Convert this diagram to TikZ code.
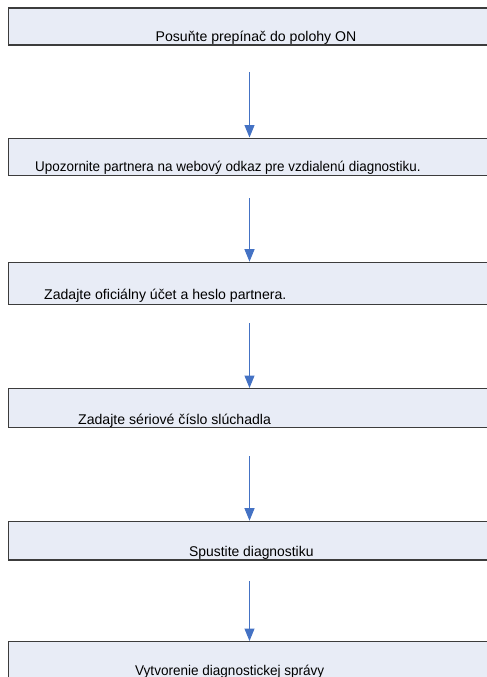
\documentclass[tikz,border=0pt]{standalone}
\usepackage{fontspec}
\setmainfont{Liberation Sans}
\usetikzlibrary{arrows.meta,positioning}
\definecolor{boxfill}{RGB}{232,236,246}
\definecolor{boxline}{RGB}{60,60,60}
\definecolor{flowblue}{RGB}{68,114,196}
\tikzset{
  >={Triangle[length=12.5pt,width=10pt]},
  stepbox/.style={draw=boxline,fill=boxfill,line width=1.3pt,minimum width=500pt,
    minimum height=#1,anchor=north west,inner sep=0pt},
  stepbox/.default=38pt,
  steptext/.style={font=\fontsize{14.1}{17}\selectfont,anchor=base west,inner sep=0pt,text=black},
  flow/.style={->,draw=flowblue,line width=1pt},
}
\begin{document}
\begin{tikzpicture}[x=1pt,y=-1pt]
  \useasboundingbox (0,0) rectangle (487,677);
  \clip (0,0) rectangle (487,677);
  % steps
  \foreach \k/\ytop/\hgt/\xt/\yb/\sx/\txt in {
    1/7.5/37/155.5/41.5/1/Posuňte prepínač do polohy ON,
    2/137.5/37.5/35/171.3/0.953/Upozornite partnera na webový odkaz pre vzdialenú diagnostiku.,
    3/261.7/42/44/299.3/1/Zadajte oficiálny účet a heslo partnera.,
    4/388/39/78/424/1/Zadajte sériové číslo slúchadla,
    5/520.7/38.5/189/556/0.985/Spustite diagnostiku,
    6/641/42/135/675.5/0.96/Vytvorenie diagnostickej správy}{
    \node[stepbox=\hgt pt] (s\k) at (7.5,\ytop) {};
    \node[steptext] (t\k) at (\xt,\yb) {\scalebox{\sx}[1]{\txt}};
  }
  % arrows
  \foreach \k/\ystart [count=\j from 2] in {1/72,2/198,3/323,4/456,5/581}{
    \coordinate (c\k) at (249.5,\ystart);
    \draw[flow] (c\k) -- (c\k |- s\j.north);
  }
\end{tikzpicture}
\end{document}
